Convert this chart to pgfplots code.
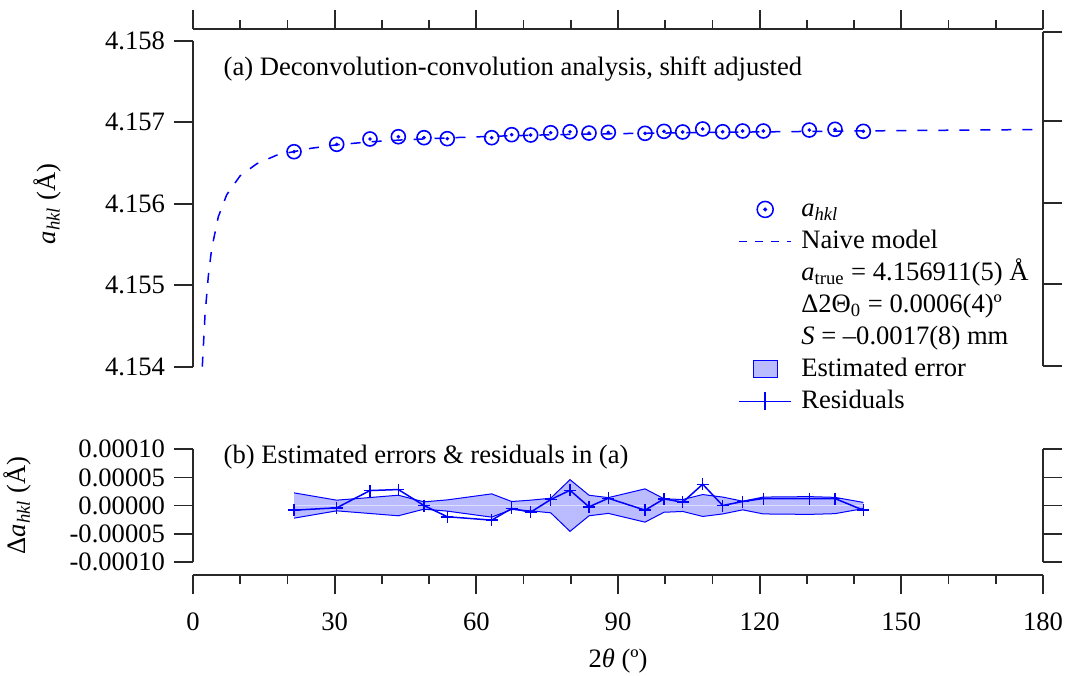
\documentclass[border=0pt]{standalone}
\usepackage{fontspec}
\setmainfont{Liberation Serif}
\usepackage{pgfplots}
\pgfplotsset{compat=1.18}
\usepackage{pgfplotstable}

\definecolor{pblue}{RGB}{0,0,255}
\definecolor{bandfill}{RGB}{187,187,255}
\definecolor{zeroline}{RGB}{222,222,255}
\definecolor{axgray}{RGB}{40,40,40}

% a_hkl given as (a - 4.154 A) in mA, to keep pgfplots' precision
\pgfplotstableread{
tt      da
21.39   2.638
30.43   2.729
37.48   2.794
43.48   2.822
48.92   2.810
53.85   2.798
63.25   2.810
67.49   2.847
71.51   2.843
75.75   2.871
79.84   2.883
83.86   2.867
87.95   2.876
95.72   2.864
99.74   2.888
103.70  2.880
107.94  2.917
112.17  2.883
116.40  2.892
120.77  2.892
130.51  2.904
135.95  2.913
141.95  2.888
}\ahkl

% naive model, same units
\pgfplotstableread{
tt      da
1.97    0.000
2.54    0.630
3.24    1.110
3.96    1.450
5.36    1.840
7.14    2.110
9.95    2.340
13.5    2.490
17.7    2.595
21.4    2.640
25.0    2.680
30.4    2.722
37.5    2.760
45.0    2.785
55.0    2.810
65.0    2.830
75.0    2.845
90.0    2.860
105.0   2.871
120.0   2.881
135.0   2.890
150.0   2.897
165.0   2.904
180.0   2.911
}\naive

% residuals and estimated errors (A)
\pgfplotstableread{
tt      res          err
21.39   -0.0000083   0.0000225
30.43   -0.0000041   0.0000095
37.48    0.0000266   0.0000142
43.48    0.0000284   0.0000183
48.92    0.0000000   0.0000065
53.85   -0.0000200   0.0000100
63.25   -0.0000260   0.0000207
67.49   -0.0000053   0.0000071
71.51   -0.0000118   0.0000095
75.75    0.0000106   0.0000130
79.84    0.0000271   0.0000460
83.86   -0.0000024   0.0000183
87.95    0.0000129   0.0000140
95.72   -0.0000083   0.0000296
99.74    0.0000118   0.0000120
103.70   0.0000059   0.0000106
107.94   0.0000378   0.0000195
112.17   0.0000000   0.0000150
116.40   0.0000071   0.0000077
120.77   0.0000124   0.0000150
130.51   0.0000124   0.0000158
135.95   0.0000124   0.0000145
141.95  -0.0000083   0.0000055
}\resid

\pgfplotsset{
  panel/.style={
    scale only axis, width=425pt, xmin=0, xmax=180,
    font=\fontsize{13.3}{16}\selectfont,
    tick align=outside, major tick length=9.5pt, minor tick length=4.5pt,
    every tick/.style={axgray, line width=0.9pt},
    axis line style={axgray, line width=0.9pt},
    /pgf/number format/assume math mode=true,
    scaled ticks=false, clip=false,
    yticklabel style={xshift=-1pt},
  },
}

\begin{document}
\begin{tikzpicture}[font=\fontsize{13.3}{16}\selectfont]
\path[use as bounding box] (0pt,0pt) rectangle (535pt,-337.5pt);

% ---- (a) top panel
\begin{axis}[panel, at={(96.5pt,-183.35pt)}, anchor=south west, height=163pt,
  ymin=0, ymax=4, axis x line=none, axis y line*=left,
  ytick={0,1,2,3,4}, yticklabels={4.154,4.155,4.156,4.157,4.158},
  ylabel={\textit{a}\textsubscript{\textit{hkl}} (Å)},
  ylabel style={at={(axis description cs:-0.162,0.5)}, anchor=base},
  legend cell align=left,
  legend style={at={(axis description cs:0.6412,0.5328)}, anchor=north west,
    draw=none, fill=none, inner sep=0pt, row sep=0pt, column sep=3.2pt,
    nodes={text height=10pt, text depth=3pt, inner sep=1.5pt}},
]
\addplot[pblue, line width=0.75pt, dash pattern=on 5pt off 5.5pt, forget plot]
  table[x=tt, y=da] {\naive};
\addplot[only marks, pblue, mark=o, mark size=3.5pt,
  mark options={line width=0.8pt}, forget plot] table[x=tt, y=da] {\ahkl};
\addplot[only marks, pblue, mark=*, mark size=0.7pt, forget plot]
  table[x=tt, y=da] {\ahkl};

\addlegendimage{legend image code/.code={
  \draw[pblue, line width=0.75pt] (13pt,0pt) circle (4pt);
  \fill[pblue] (13pt,0pt) circle (0.8pt);
  \path (0pt,0pt) (26pt,0pt);}}
\addlegendentry{\textit{a}\textsubscript{\textit{hkl}}}
\addlegendimage{legend image code/.code={
  \draw[pblue, line width=0.75pt, dash pattern=on 4pt off 4pt] (0pt,0pt) -- (26pt,0pt);}}
\addlegendentry{Naive model}
\addlegendimage{empty legend}
\addlegendentry{\textit{a}\textsubscript{true} = 4.156911(5) Å}
\addlegendimage{empty legend}
\addlegendentry{Δ2Θ\textsubscript{0} = 0.0006(4)º}
\addlegendimage{empty legend}
\addlegendentry{\textit{S} = –0.0017(8) mm}
\addlegendimage{legend image code/.code={
  \draw[pblue, line width=0.5pt, fill=bandfill] (7pt,-4.25pt) rectangle (19pt,4.25pt);
  \path (0pt,0pt) (26pt,0pt);}}
\addlegendentry{Estimated error}
\addlegendimage{legend image code/.code={
  \draw[pblue, line width=0.75pt] (0pt,0pt) -- (26pt,0pt) (13pt,-4.5pt) -- (13pt,4.5pt);}}
\addlegendentry{Residuals}
\end{axis}

% right axis of the top panel
\begin{axis}[panel, at={(96.5pt,-182.85pt)}, anchor=south west, height=167pt,
  ymin=0, ymax=4.098, axis x line=none, axis y line*=right,
  ytick={0,1,2,3,4.098}, yticklabels={}]
\end{axis}

% top x axis
\begin{axis}[panel, at={(96.5pt,-14.65pt)}, anchor=north west, height=10pt,
  ymin=0, ymax=1, axis y line=none, axis x line*=top,
  xtick={0,30,...,180}, minor xtick={10,20,...,170}, xticklabels={}]
\end{axis}

% ---- (b) bottom panel
\begin{axis}[panel, at={(96.5pt,-280.85pt)}, anchor=south west, height=56.2pt,
  ymin=-0.0001, ymax=0.0001, axis x line=none, axis y line*=left,
  ytick={-0.0001,-0.00005,0,0.00005,0.0001},
  yticklabels={-0.00010,-0.00005,0.00000,0.00005,0.00010},
  ylabel={Δ\textit{a}\textsubscript{\textit{hkl}} (Å)},
  ylabel style={at={(axis description cs:-0.197,0.5)}, anchor=base},
]
% estimated error band, filled from +err and -err down to zero
\addplot[draw=none, fill=bandfill] table[x=tt, y=err] {\resid} \closedcycle;
\addplot[draw=none, fill=bandfill] table[x=tt, y expr=-\thisrow{err}] {\resid} \closedcycle;
\addplot[pblue, line width=0.5pt] table[x=tt, y=err] {\resid};
\addplot[pblue, line width=0.5pt] table[x=tt, y expr=-\thisrow{err}] {\resid};
\addplot[zeroline, line width=0.5pt] coordinates {(21.39,0) (141.95,0)};
\addplot[pblue, line width=0.75pt, mark=+, mark size=3pt] table[x=tt, y=res] {\resid};
\end{axis}

% right axis of the bottom panel
\begin{axis}[panel, at={(96.5pt,-280.85pt)}, anchor=south west, height=56.2pt,
  ymin=-1, ymax=1, axis x line=none, axis y line*=right,
  ytick={-1,-0.5,0,0.5,1}, yticklabels={}]
\end{axis}

% bottom x axis
\begin{axis}[panel, at={(96.5pt,-287.65pt)}, anchor=south west, height=10pt,
  ymin=0, ymax=1, axis y line=none, axis x line*=bottom,
  xtick={0,30,...,180}, minor xtick={10,20,...,170},
  xticklabel style={yshift=-5.5pt},
  xlabel={2\textit{θ} (º)},
  xlabel style={at={(rel axis cs:0.5,0)}, anchor=base, yshift=-46pt},
]
\end{axis}

\node[anchor=base west] at (108.3pt,-37.5pt) {(a) Deconvolution-convolution analysis, shift adjusted};
\node[anchor=base west] at (108.3pt,-231.5pt) {(b) Estimated errors \& residuals in (a)};
\end{tikzpicture}
\end{document}
